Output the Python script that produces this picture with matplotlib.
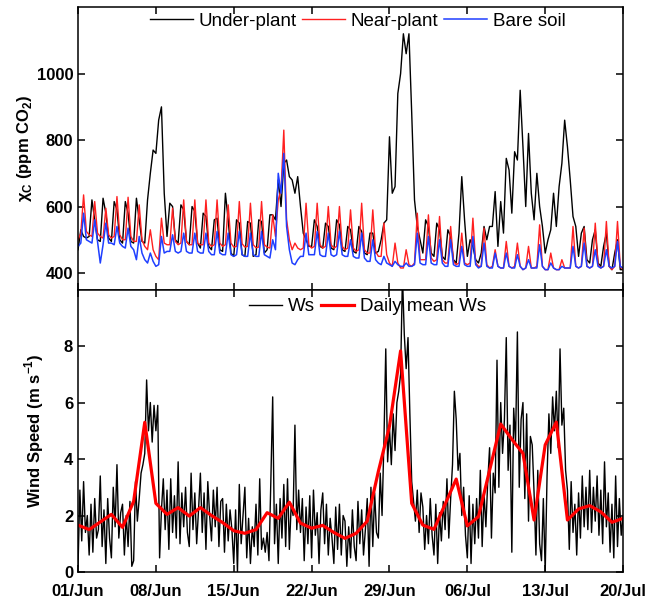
import numpy as np
import pandas as pd
import matplotlib
matplotlib.use('Agg')
import matplotlib.pyplot as plt
import matplotlib.dates as mdates

# ── data ──
# CO2 mixing ratio, 6-hourly samples (00, 06, 12, 18 h) from 01/Jun, one day per row
under_plant = [
    470, 530, 510, 505,   510, 620, 560, 500,   495, 625, 580, 505,   495, 615, 590, 500,
    490, 615, 580, 495,   490, 625, 560, 495,   490, 620, 700, 770,   760, 860, 900, 640,
    510, 610, 600, 500,   490, 605, 590, 495,   485, 600, 585, 490,   475, 580, 570, 480,
    470, 560, 565, 470,   465, 640, 560, 460,   450, 560, 550, 455,   450, 555, 550, 450,
    455, 560, 555, 460,   470, 575, 575, 560,   680, 600, 730, 740,   690, 680, 640, 690,
    600, 520, 500, 480,   480, 560, 540, 480,   475, 550, 540, 475,   470, 560, 545, 470,
    465, 540, 530, 465,   460, 540, 525, 460,   455, 520, 520, 460,   465, 500, 550, 560,
    810, 640, 660, 940,   1000, 1120, 1060, 1120, 880, 620, 540, 500,  460, 560, 540, 460,
    450, 550, 530, 450,   440, 530, 510, 440,   430, 520, 690, 560,   450, 500, 480, 440,
    430, 460, 540, 500,   540, 540, 645, 480,   615, 520, 745, 710,   580, 765, 740, 950,
    780, 600, 820, 640,   560, 700, 600, 540,   460, 500, 530, 640,   540, 660, 730, 860,
    780, 680, 570, 540,   450, 520, 540, 440,   430, 500, 530, 430,   420, 480, 520, 420,
    410, 460, 500, 410,
    410,
]
near_plant = [
    500, 520, 635, 525,   515, 510, 615, 520,   510, 505, 595, 515,   505, 510, 630, 515,
    500, 500, 628, 510,   495, 495, 605, 500,   480, 470, 530, 470,   450, 440, 565, 490,
    485, 485, 595, 495,   485, 490, 620, 495,   485, 485, 620, 490,   485, 485, 620, 490,
    480, 485, 620, 490,   480, 485, 605, 490,   478, 480, 615, 488,   478, 480, 610, 485,
    476, 478, 615, 485,   478, 475, 575, 510,   620, 650, 830, 560,   500, 470, 490, 475,
    470, 475, 610, 485,   475, 480, 610, 485,   475, 480, 600, 485,   475, 480, 600, 480,
    470, 475, 590, 475,   465, 470, 610, 470,   460, 460, 590, 465,   450, 450, 550, 455,
    430, 420, 490, 430,   415, 415, 470, 425,   420, 430, 580, 440,   440, 440, 575, 445,
    435, 440, 570, 440,   430, 430, 540, 435,   425, 430, 520, 430,   425, 430, 565, 430,
    420, 420, 535, 425,   415, 420, 470, 420,   415, 415, 495, 420,   415, 420, 490, 420,
    410, 415, 480, 415,   415, 420, 545, 420,   410, 410, 460, 415,   410, 410, 440, 415,
    415, 415, 540, 420,   415, 420, 535, 420,   415, 420, 550, 425,   415, 420, 555, 420,
    410, 420, 555, 420,
    410,
]
bare_soil = [
    480, 490, 580, 500,   495, 490, 560, 495,   430, 485, 550, 490,   490, 485, 540, 490,
    480, 475, 535, 480,   470, 440, 510, 460,   440, 430, 460, 435,   420, 425, 510, 460,
    465, 465, 515, 465,   460, 465, 520, 465,   460, 460, 520, 465,   460, 460, 520, 465,
    455, 455, 525, 460,   455, 455, 520, 455,   450, 455, 525, 455,   450, 450, 520, 455,
    450, 450, 525, 455,   450, 445, 500, 470,   700, 640, 760, 540,   470, 430, 425, 440,
    450, 450, 520, 455,   455, 455, 525, 455,   450, 450, 520, 455,   450, 455, 525, 455,
    450, 450, 500, 450,   445, 445, 520, 445,   435, 435, 500, 440,   430, 425, 450, 430,
    425, 420, 435, 425,   420, 420, 430, 420,   420, 425, 520, 430,   425, 425, 510, 430,
    425, 425, 500, 430,   420, 420, 500, 425,   420, 420, 480, 425,   420, 420, 510, 425,
    415, 420, 490, 420,   415, 415, 460, 420,   415, 415, 460, 420,   415, 415, 455, 420,
    410, 415, 440, 415,   415, 415, 485, 420,   410, 410, 430, 415,   410, 410, 420, 415,
    415, 415, 480, 420,   415, 420, 490, 420,   415, 420, 470, 420,   415, 420, 470, 420,
    415, 420, 495, 420,
    415,
]

# wind speed, 4-hourly samples (00..20 h), one day per row
ws = [
    0.2, 2.9, 1.1, 3.2, 1.4, 2.0,   0.6, 2.4, 0.7, 2.6, 1.2, 1.5,   3.4, 0.9, 2.2, 0.3, 2.6, 1.2,
    0.5, 3.0, 1.6, 3.8, 1.2, 2.1,   2.4, 0.6, 2.0, 0.9, 2.5, 0.2,   0.4, 3.2, 1.8, 2.6, 3.5, 3.8,
    4.2, 6.8, 5.0, 6.0, 4.6, 5.9,   5.0, 5.9, 0.5, 2.2, 3.3, 1.5,   2.9, 0.8, 3.3, 1.4, 2.7, 1.2,
    3.9, 1.0, 2.8, 1.6, 3.0, 1.4,   0.9, 3.5, 1.5, 2.8, 1.0, 2.2,   3.5, 1.4, 2.8, 0.8, 3.2, 2.0,
    1.1, 2.9, 1.6, 3.0, 0.9, 2.5,   2.6, 0.7, 2.4, 1.1, 2.2, 1.5,   0.3, 2.2, 0.0, 3.1, 1.0, 2.0,
    3.0, 0.5, 1.9, 0.3, 1.6, 0.9,   2.4, 0.6, 3.3, 0.8, 1.2, 0.7,   1.4, 0.4, 3.2, 6.2, 1.0, 2.4,
    0.3, 2.6, 1.2, 3.1, 0.9, 3.3,   0.8, 2.4, 2.0, 5.2, 1.5, 2.9,   1.4, 2.6, 0.4, 2.3, 1.0, 2.7,
    0.5, 2.9, 1.3, 2.1, 0.3, 2.2,   2.8, 1.0, 2.4, 0.6, 1.9, 1.2,   0.3, 2.3, 0.8, 2.4, 0.6, 2.0,
    1.8, 0.2, 1.6, 0.5, 2.2, 0.9,   0.4, 2.5, 1.0, 2.2, 0.6, 1.5,   2.6, 0.2, 3.0, 0.9, 2.8, 1.4,
    1.2, 3.5, 2.0, 4.6, 7.9, 3.9,   5.1, 3.8, 5.6, 4.3, 6.0, 6.4,   7.0, 10.5, 8.4, 7.2, 8.3, 5.6,
    3.2, 2.5, 1.8, 2.9, 1.4, 2.8,   2.3, 0.8, 2.0, 1.0, 2.6, 1.3,   0.6, 2.4, 0.3, 2.1, 1.1, 2.5,
    1.5, 3.3, 1.2, 2.6, 3.8, 6.4,   5.4, 3.6, 4.2, 2.0, 3.0, 1.3,   0.5, 2.7, 0.3, 2.4, 1.0, 2.6,
    1.2, 3.6, 0.9, 2.8, 1.6, 3.2,   4.4, 1.2, 3.5, 2.8, 7.5, 3.0,   6.0, 4.2, 5.4, 8.3, 3.6, 5.2,
    0.7, 5.8, 4.6, 8.5, 3.0, 5.4,   6.0, 2.6, 5.6, 1.8, 4.8, 4.5,   2.8, 0.6, 3.6, 1.0, 0.4, 2.6,
    0.0, 3.4, 5.6, 4.2, 6.2, 5.0,   6.4, 4.4, 7.9, 5.2, 5.8, 3.6,   2.9, 0.8, 3.2, 1.4, 2.4, 0.6,
    2.8, 1.2, 3.4, 1.6, 3.0, 1.5,   3.6, 1.4, 3.0, 1.8, 3.4, 1.3,   2.9, 1.0, 3.9, 1.6, 2.8, 0.7,
    2.4, 0.5, 3.4, 0.9, 2.6, 1.3,
    2.0,
]
ws_daily = [1.66, 1.50, 1.77, 2.04, 1.58, 2.50, 5.30, 2.43, 2.04, 2.28,
            1.98, 2.28, 2.00, 1.75, 1.46, 1.37, 1.50, 2.10, 1.90, 2.47,
            1.73, 1.55, 1.65, 1.40, 1.19, 1.37, 1.80, 3.56, 5.16, 7.83,
            2.43, 1.66, 1.51, 2.40, 3.29, 1.63, 1.96, 3.60, 5.24, 4.70,
            4.20, 1.84, 4.50, 5.31, 1.84, 2.23, 2.35, 2.13, 1.76, 1.90]

t_co2 = pd.date_range('2015-06-01', periods=len(under_plant), freq='6h')
t_ws = pd.date_range('2015-06-01', periods=len(ws), freq='4h')
t_day = pd.date_range('2015-06-01', periods=len(ws_daily), freq='D')

# ── style ──
plt.rcParams['font.family'] = ['Liberation Sans', 'DejaVu Sans']
plt.rcParams['mathtext.fontset'] = 'custom'
plt.rcParams['mathtext.rm'] = 'Liberation Sans'
plt.rcParams['mathtext.bf'] = 'Liberation Sans:bold'
plt.rcParams['axes.linewidth'] = 1.1

fig, (ax1, ax2) = plt.subplots(2, 1, figsize=(6.47, 6.0), dpi=100, sharex=True)
fig.subplots_adjust(left=0.1206, right=0.963, top=0.988, bottom=0.0467, hspace=0)

# top panel
ax1.plot(t_co2, under_plant, color='black', lw=1.0, label='Under-plant')
ax1.plot(t_co2, near_plant, color='#ff2020', lw=1.0, label='Near-plant')
ax1.plot(t_co2, bare_soil, color='#1f3fff', lw=1.1, label='Bare soil')
ax1.set_ylim(350, 1200)
ax1.set_yticks([400, 600, 800, 1000])
ax1.set_ylabel(r'χ$_\mathbf{C}$ (ppm CO$_\mathbf{2}$)', fontsize=12, fontweight='bold', labelpad=2)
ax1.legend(loc='upper center', bbox_to_anchor=(0.513, 1.0), ncol=3, frameon=False,
           fontsize=13.5, handlelength=2.3, handletextpad=0.3, columnspacing=0.3,
           borderaxespad=0.1, borderpad=0.2)

# bottom panel
ax2.plot(t_ws, ws, color='black', lw=1.0, label='Ws')
ax2.plot(t_day, ws_daily, color='#ff0000', lw=2.3, label='Daily mean Ws')
ax2.set_ylim(0, 10)
ax2.set_yticks([0, 2, 4, 6, 8])
ax2.set_ylabel(r'Wind Speed (m s$^\mathbf{-1}$)', fontsize=12, fontweight='bold', labelpad=13)
ax2.legend(loc='upper center', bbox_to_anchor=(0.531, 1.0), ncol=2, frameon=False,
           fontsize=13.5, handlelength=1.8, handletextpad=0.3, columnspacing=0.3,
           borderaxespad=0.3, borderpad=0.15)

ax2.set_xlim(pd.Timestamp('2015-06-01'), pd.Timestamp('2015-07-20'))
ax2.set_xticks(pd.date_range('2015-06-01', '2015-07-20', freq='7D'))
ax2.xaxis.set_major_formatter(mdates.DateFormatter('%d/%b'))

for ax in (ax1, ax2):
    ax.tick_params(direction='in', length=5, width=1.1, top=True, right=True,
                   labelsize=12)
    for lab in ax.get_xticklabels() + ax.get_yticklabels():
        lab.set_fontweight('bold')
ax2.tick_params(axis='x', pad=9)

plt.savefig('out.png', dpi=100)
plt.close()
